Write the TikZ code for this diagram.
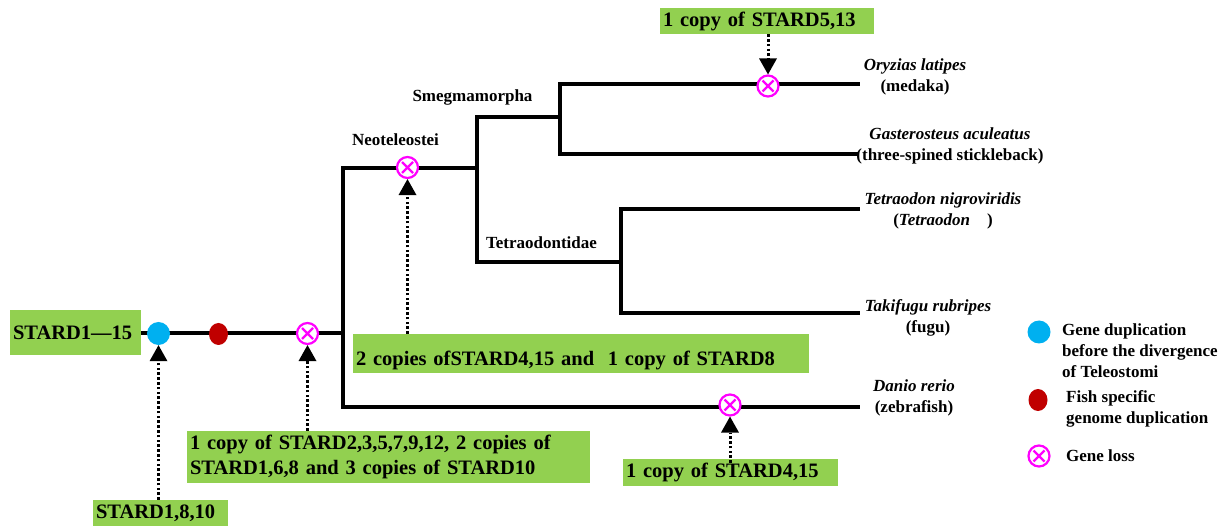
\documentclass[tikz,border=0pt]{standalone}
\usepackage{fontspec}
\setmainfont{Liberation Serif}
\usetikzlibrary{arrows.meta,shapes.geometric}
\definecolor{boxgreen}{HTML}{92D050}
\definecolor{dupblue}{HTML}{00B0F0}
\definecolor{fishred}{HTML}{C00000}
\definecolor{lossmag}{HTML}{FF00FF}
\begin{document}
\begin{tikzpicture}[x=1pt,y=-1pt,
  branch/.style={line width=3.6pt, line cap=rect},
  gbox/.style={fill=boxgreen, inner xsep=3pt, inner ysep=0pt, align=left,
     font=\bfseries\fontsize{20.5}{25}\selectfont},
  note/.style={dash pattern=on 2.6pt off 2.2pt, line width=3pt,
     -{Triangle[width=18pt,length=16pt,line width=0pt]}},
  clade/.style={font=\bfseries\fontsize{17}{20}\selectfont, inner sep=0pt},
  species/.style={font=\bfseries\fontsize{17}{21}\selectfont, align=center, inner sep=0pt},
  legtext/.style={font=\bfseries\fontsize{17}{21}\selectfont, align=left, anchor=west, inner sep=0pt},
  dupmark/.style={circle, fill=dupblue, minimum size=23pt, inner sep=0pt},
  fishmark/.style={ellipse, fill=fishred, minimum width=19pt, minimum height=22pt, inner sep=0pt},
  lossmark/.style={circle, draw=lossmag, fill=white, line width=2.2pt, minimum size=21pt, inner sep=0pt,
     path picture={\draw[lossmag, line width=2.2pt]
        ([shift={(-5.5,-5.5)}]path picture bounding box.center) -- ([shift={(5.5,5.5)}]path picture bounding box.center)
        ([shift={(-5.5,5.5)}]path picture bounding box.center) -- ([shift={(5.5,-5.5)}]path picture bounding box.center);}}
]
\useasboundingbox (0,0) rectangle (1226,526);

% tree coordinates
\coordinate (root) at (141,333);
\coordinate (n1) at (343,333);
\coordinate (n1t) at (343,168);
\coordinate (n1b) at (343,407);
\coordinate (n2) at (477,168);
\coordinate (n2t) at (477,117);
\coordinate (n2b) at (477,262);
\coordinate (n3) at (560,117);
\coordinate (n3t) at (560,84);
\coordinate (n3b) at (560,154);
\coordinate (n4) at (621,262);
\coordinate (n4t) at (621,209);
\coordinate (n4b) at (621,313);
\coordinate (tOry) at (858,84);
\coordinate (tGas) at (856,154);
\coordinate (tTet) at (858,209);
\coordinate (tTak) at (858,313);
\coordinate (tDan) at (858,407);

% branches
\draw[branch] (root) -- (n1);
\draw[branch] (n1t) -- (n1b);
\draw[branch] (n1t) -- (n2);
\draw[branch] (n2t) -- (n2b);
\draw[branch] (n2t) -- (n3);
\draw[branch] (n3t) -- (n3b);
\draw[branch] (n3t) -- (tOry);
\draw[branch] (n3b) -- (tGas);
\draw[branch] (n2b) -- (n4);
\draw[branch] (n4t) -- (n4b);
\draw[branch] (n4t) -- (tTet);
\draw[branch] (n4b) -- (tTak);
\draw[branch] (n1b) -- (tDan);

% event markers
\node[dupmark] (dup) at (158.5,333.5) {};
\node[fishmark] (fish) at (218.5,334) {};
\node[lossmark] (loss1) at (307.5,333.5) {};
\node[lossmark] (loss2) at (407.5,167.5) {};
\node[lossmark] (loss3) at (730,405) {};
\node[lossmark] (loss4) at (768,86) {};

% green boxes
\node[gbox, minimum width=131pt, minimum height=45pt, text width=125pt] (s15) at (75.5,332.5) {STARD1---15};
\node[gbox, minimum width=135pt, minimum height=26pt, text width=129pt] (s8) at (160.5,513) {STARD1,8,10};
\node[gbox, minimum width=403pt, minimum height=52pt, text width=397pt] (s2) at (388.5,457)
  {1 copy of STARD2,3,5,7,9,12, 2 copies of\\STARD1,6,8 and 3 copies of STARD10};
\node[gbox, minimum width=456pt, minimum height=39pt, text width=450pt, text height=27pt, text depth=2pt] (s4) at (581,353.5)
  {2 copies ofSTARD4,15 and \ 1 copy of STARD8};
\node[gbox, minimum width=215pt, minimum height=27pt, text width=209pt] (s415) at (730.5,472.5) {1 copy of STARD4,15};
\node[gbox, minimum width=214pt, minimum height=26pt, text width=208pt] (s513) at (767,21) {1 copy of STARD5,13};

% dotted arrows
\draw[note] (s8.north -| dup) -- (dup.south);
\draw[note] (s2.north -| loss1) -- (loss1.south);
\draw[note] (s4.north -| loss2) -- (loss2.south);
\draw[note] ([yshift=-4pt]s415.north -| loss3) -- (loss3.south);
\draw[note] (s513.south -| loss4) -- (loss4.north);

% clade labels
\node[clade] (smeg) at (472.5,97) {Smegmamorpha};
\node[clade] (neo) at (395.5,140) {Neoteleostei};
\node[clade] (tetr) at (541.5,243) {Tetraodontidae};

% species
\node[species] (ory) at (915,77) {\textit{Oryzias latipes}\\(medaka)};
\node[species] (gas) at (950,146) {\textit{Gasterosteus aculeatus}\\(three-spined stickleback)};
\node[species] (tet) at (943,211) {\textit{Tetraodon nigroviridis}\\(\textit{Tetraodon}\quad)};
\node[species] (tak) at (928,318) {\textit{Takifugu rubripes}\\(fugu)};
\node[species] (dan) at (914,398) {\textit{Danio rerio}\\(zebrafish)};

% legend
\node[dupmark] (ldup) at (1039,332) {};
\node[fishmark] (lfish) at (1038,400) {};
\node[lossmark] (lloss) at (1039,456) {};
\node[legtext] (tdup) at (1062,351) {Gene duplication\\before the divergence\\of Teleostomi};
\node[legtext] (tfish) at (1066,409) {Fish specific\\genome duplication};
\node[legtext] (tloss) at (1066,456) {Gene loss};
\end{tikzpicture}
\end{document}
